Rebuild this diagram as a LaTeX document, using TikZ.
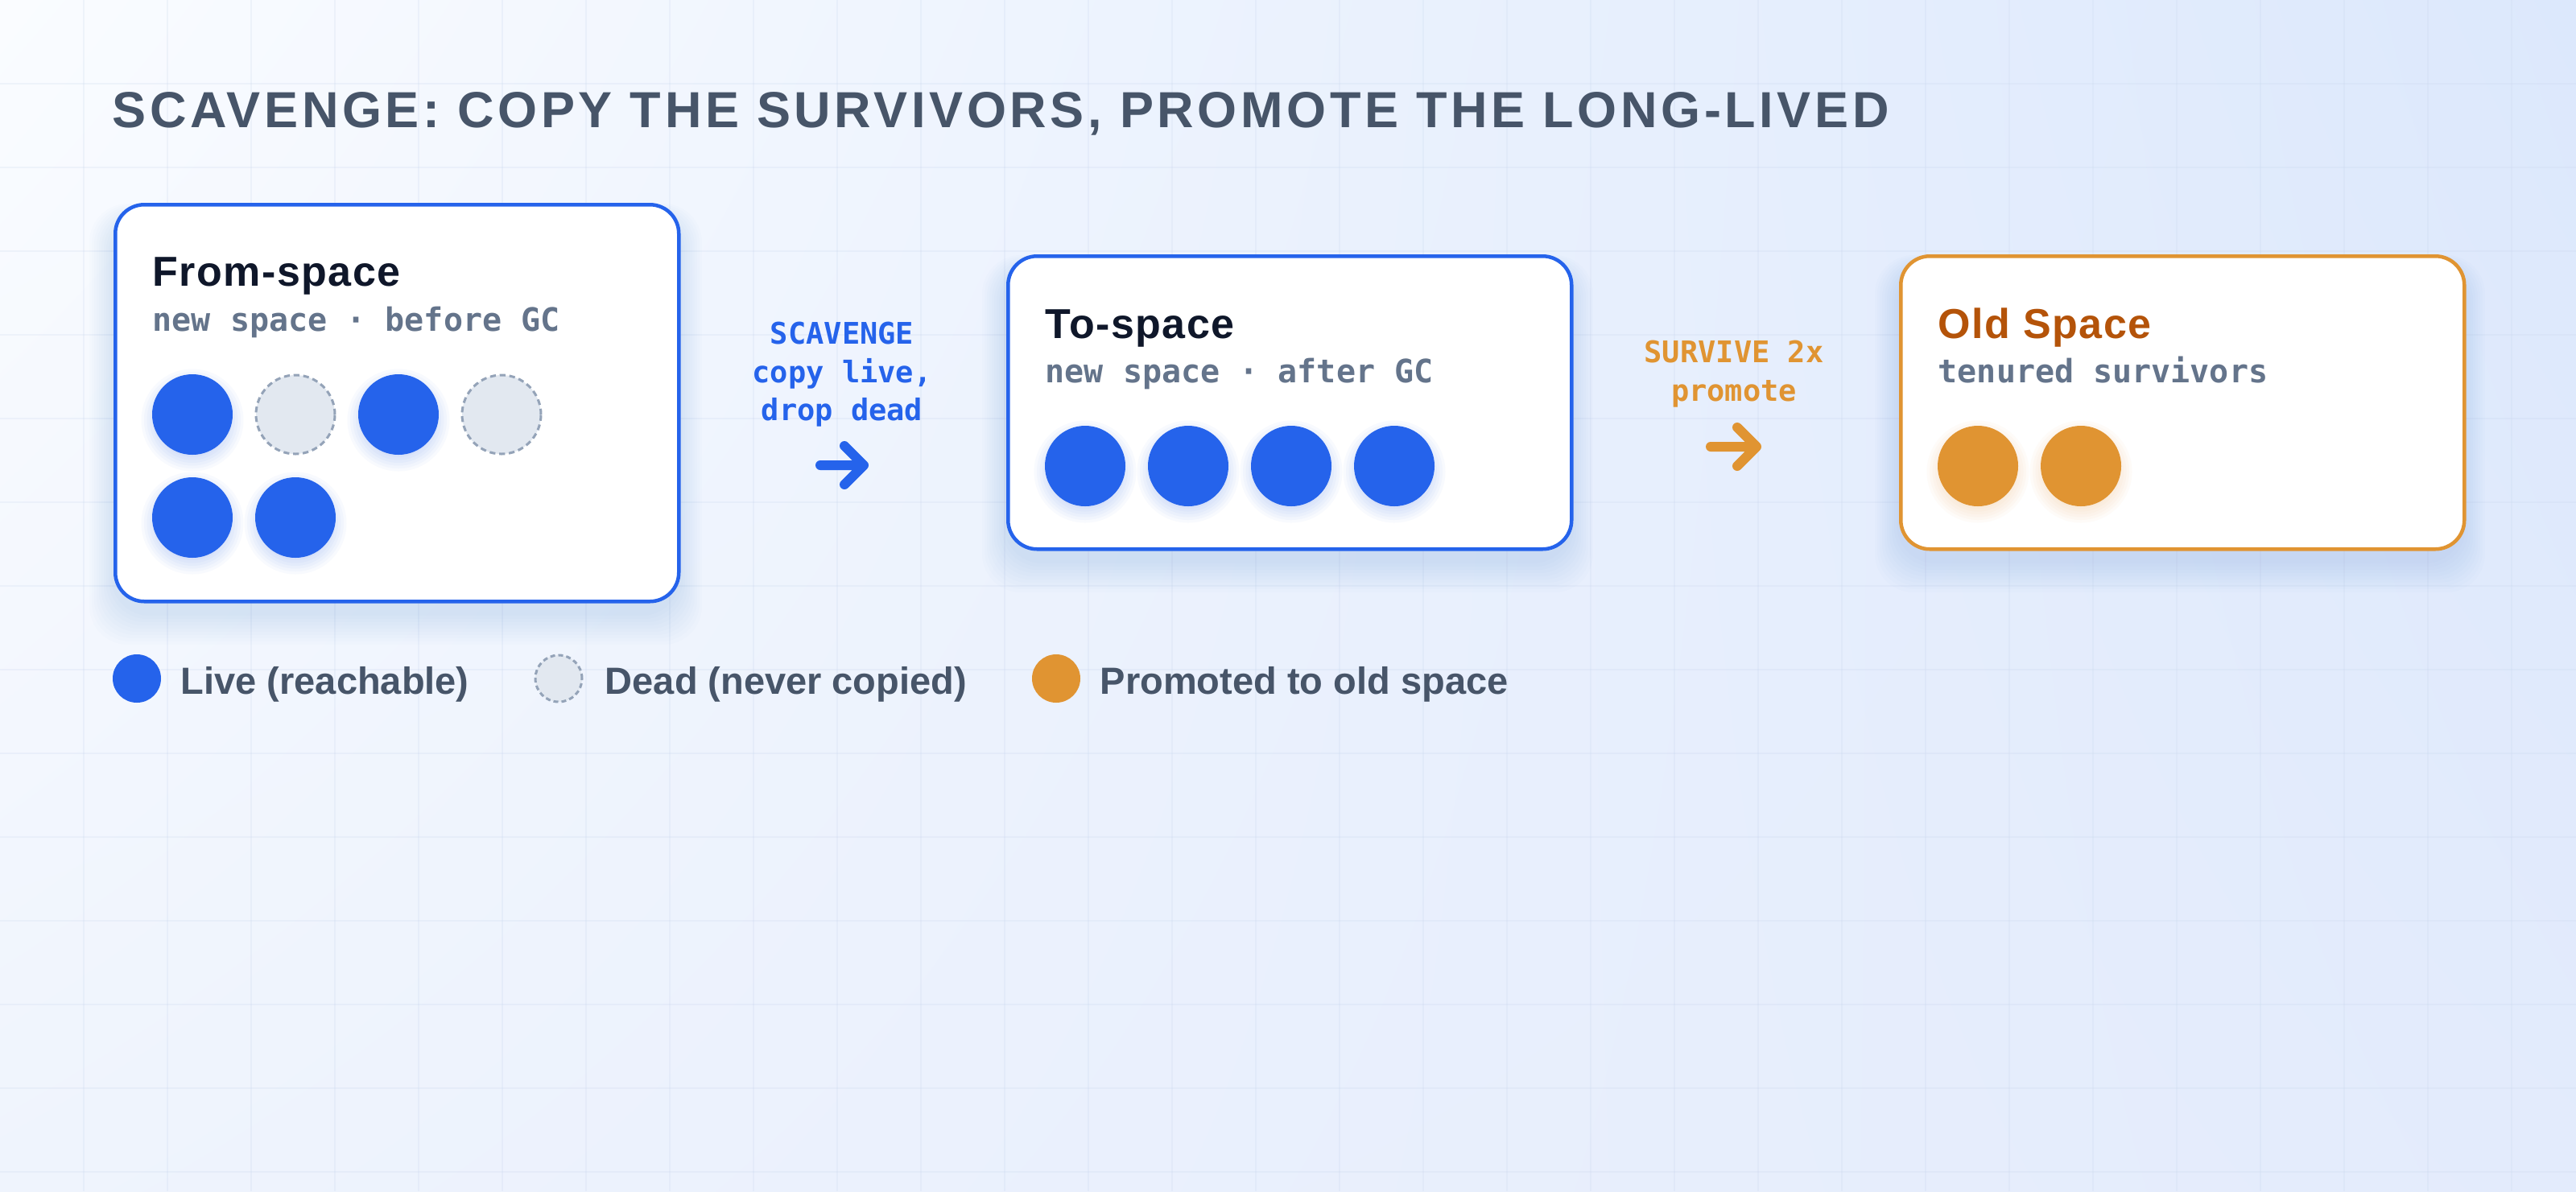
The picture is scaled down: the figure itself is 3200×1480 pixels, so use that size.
\documentclass[tikz,border=0pt]{standalone}
\usepackage{fontspec}
\usetikzlibrary{shadings}
\setmainfont{Liberation Sans}
\newfontfamily\monofont{DejaVu Sans Mono}
\newfontfamily\trackfont{Liberation Sans}[LetterSpace=7.3]
\newfontfamily\headfont{Liberation Sans}[LetterSpace=2.8]
\definecolor{blueC}{HTML}{2563EB}
\definecolor{deadF}{HTML}{E2E8F0}
\definecolor{deadS}{HTML}{94A3B8}
\definecolor{orangeC}{HTML}{E09432}
\definecolor{oldT}{HTML}{B45309}
\definecolor{darkT}{HTML}{0F172A}
\definecolor{subT}{HTML}{64748B}
\definecolor{slateT}{HTML}{475569}
\definecolor{bgUL}{HTML}{FAFCFF}
\definecolor{bgUR}{HTML}{DCE8FC}
\definecolor{bgLL}{HTML}{EFF4FD}
\definecolor{bgLR}{HTML}{E3EBFC}
\definecolor{gridC}{HTML}{C5D3EA}
\newcommand\boxshadow[4]{%
  \foreach \k in {1,...,10}{%
    \fill[blueC, opacity=0.01, rounded corners=12pt]
      (#1-\k*3, #2+16-\k*1.5) rectangle (#3+\k*3, #4+16+\k*4);}}
\newcommand\dotshadow[3]{%
  \foreach \k in {0,...,5}{%
    \fill[#3, opacity=0.03] (#1,#2+7) circle (46+\k*3.5);}}
\tikzset{
  spacebox/.style={rectangle, rounded corners=9pt, fill=white, line width=1.125pt,
    inner sep=0pt, anchor=north west, minimum width=175pt, minimum height=#1},
  livedot/.style={circle, fill=blueC, minimum size=25pt, inner sep=0pt},
  olddot/.style={circle, fill=orangeC, minimum size=25pt, inner sep=0pt},
  deaddot/.style={circle, fill=deadF, draw=deadS, line width=0.75pt,
    dash pattern=on 1.8pt off 1.2pt, minimum size=24.5pt, inner sep=0pt},
  boxtitle/.style={anchor=base west, inner sep=0pt,
    font=\headfont\bfseries\fontsize{13pt}{15pt}\selectfont},
  boxsub/.style={anchor=base west, inner sep=0pt, text=subT,
    font=\monofont\bfseries\fontsize{10pt}{12pt}\selectfont},
  steplabel/.style={anchor=base, inner sep=0pt,
    font=\monofont\bfseries\fontsize{9.25pt}{12pt}\selectfont},
  legtext/.style={anchor=base west, inner sep=0pt, text=slateT,
    font=\bfseries\fontsize{11.75pt}{14pt}\selectfont},
  fatarrow/.style={line width=3pt, line cap=round, line join=round},
  gridline/.style={draw=gridC, opacity=0.2, line width=0.4pt}
}
\begin{document}
\begin{tikzpicture}[x=0.25pt,y=-0.25pt]
\useasboundingbox (0,0) rectangle (3200,1480);
% background
\shade[upper left=bgUL, upper right=bgUR, lower left=bgLL, lower right=bgLR]
  (0,0) rectangle (3200,1480);
\foreach \gx in {104,208,...,3200}{\draw[gridline] (\gx,0) -- (\gx,1480);}
\foreach \gy in {104,208,...,1480}{\draw[gridline] (0,\gy) -- (3200,\gy);}
% title
\node[anchor=base west, inner sep=0pt, text=slateT,
  font=\trackfont\bfseries\fontsize{15.75pt}{18pt}\selectfont]
  (title) at (139,158) {SCAVENGE: COPY THE SURVIVORS, PROMOTE THE LONG-LIVED};
% shadows
\boxshadow{141}{252}{842}{745}
\boxshadow{1250}{316}{1949}{680}
\boxshadow{2359}{316}{3057}{680}
% boxes
\node[spacebox=123.25pt, draw=blueC] (from) at (141,252) {};
\node[spacebox=91pt, draw=blueC] (to) at (1250,316) {};
\node[spacebox=91pt, draw=orangeC] (old) at (2359,316) {};
% from-space
\node[boxtitle, text=darkT] (fromT) at (189,355) {From-space};
\node[boxsub] (fromS) at (189,411) {new space · before GC};
\dotshadow{239}{515}{blueC}
\dotshadow{495}{515}{blueC}
\dotshadow{239}{643}{blueC}
\dotshadow{367}{643}{blueC}
\node[livedot] (f1) at (239,515) {};
\node[deaddot] (f2) at (367,515) {};
\node[livedot] (f3) at (495,515) {};
\node[deaddot] (f4) at (623,515) {};
\node[livedot] (f5) at (239,643) {};
\node[livedot] (f6) at (367,643) {};
% to-space
\node[boxtitle, text=darkT] (toT) at (1298,420) {To-space};
\node[boxsub] (toS) at (1298,475) {new space · after GC};
\foreach \i/\cx in {1/1348,2/1476,3/1604,4/1732}{
  \dotshadow{\cx}{579}{blueC}
  \node[livedot] (t\i) at (\cx,579) {};}
% old space
\node[boxtitle, text=oldT] (oldT) at (2407,420) {Old Space};
\node[boxsub] (oldS) at (2407,475) {tenured survivors};
\foreach \i/\cx in {1/2457,2/2585}{
  \dotshadow{\cx}{579}{orangeC}
  \node[olddot] (o\i) at (\cx,579) {};}
% step 1 label
\node[steplabel, text=blueC] (s1a) at (1046,427) {SCAVENGE};
\node[steplabel, text=blueC] (s1b) at (1046,475) {copy live,};
\node[steplabel, text=blueC] (s1c) at (1046,522) {drop dead};
\coordinate (a1s) at (1019,578);
\coordinate (a1t) at (1073,578);
\draw[fatarrow, blueC] (a1s) -- (a1t) (a1t) ++(-24,-24) -- (a1t) -- ++(-24,24);
% step 2 label
\node[steplabel, text=orangeC] (s2a) at (2154,450) {SURVIVE 2x};
\node[steplabel, text=orangeC] (s2b) at (2154,498) {promote};
\coordinate (a2s) at (2125,555);
\coordinate (a2t) at (2182,555);
\draw[fatarrow, orangeC] (a2s) -- (a2t) (a2t) ++(-24,-24) -- (a2t) -- ++(-24,24);
% legend
\node[livedot, minimum size=15pt] (l1) at (170,843) {};
\node[legtext] (l1t) at (224,862) {Live (reachable)};
\node[deaddot, minimum size=14.5pt, dash pattern=on 1.5pt off 1pt] (l2) at (694,843) {};
\node[legtext] (l2t) at (751,862) {Dead (never copied)};
\node[olddot, minimum size=15pt] (l3) at (1312,843) {};
\node[legtext] (l3t) at (1366,862) {Promoted to old space};
\end{tikzpicture}
\end{document}
